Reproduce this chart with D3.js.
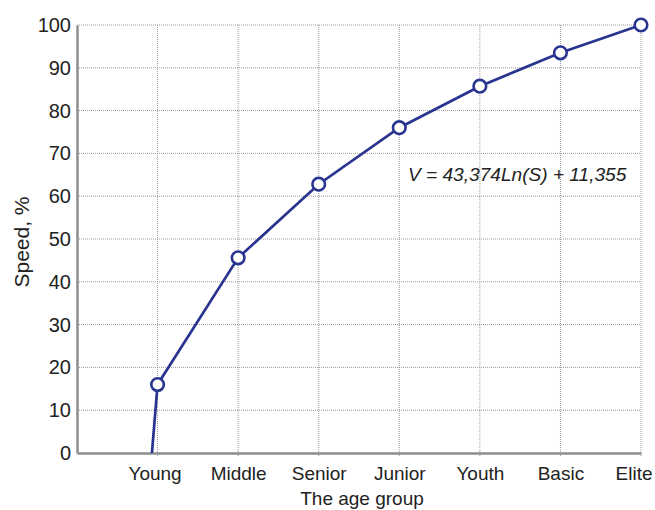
<!DOCTYPE html>
<html><head><meta charset="utf-8">
<script src="https://cdn.jsdelivr.net/npm/d3@7"></script>
<style>body{margin:0;background:#fff}svg{display:block}</style>
</head><body>
<svg id="c" width="655" height="510"></svg>
<script>
const categories = ["Young","Middle","Senior","Junior","Youth","Basic","Elite"];
const speedValues = [16, 45.6, 62.8, 76, 85.7, 93.5, 100];
const yTicks = [0,10,20,30,40,50,60,70,80,90,100];
const trendStart = {pos: 0.93, value: 0};
const equationLabel = "V = 43,374Ln(S) + 11,355";

const svg = d3.select("#c");
const x = d3.scaleLinear().domain([0, categories.length]).range([77, 641]);
const y = d3.scaleLinear().domain([0, 100]).range([453, 25]);
const lineColor = "#28348f";
const font = "'Liberation Sans', Arial, Helvetica, sans-serif";

// horizontal grid
svg.append("g").selectAll("line").data(yTicks.filter(d => d > 0)).join("line")
  .attr("x1", x(0)).attr("x2", x(7)).attr("y1", d => y(d)).attr("y2", d => y(d))
  .attr("stroke", "#9a9a9a").attr("stroke-width", 1).attr("stroke-dasharray", "1,1");
// vertical grid
svg.append("g").selectAll("line").data(categories).join("line")
  .attr("x1", (d,i) => x(i+1)).attr("x2", (d,i) => x(i+1))
  .attr("y1", y(100)).attr("y2", y(0) + 3)
  .attr("stroke", "#9a9a9a").attr("stroke-width", 1).attr("stroke-dasharray", "1,1");

// axes
const yAxis = d3.axisLeft(y).tickValues(yTicks).tickSize(0).tickPadding(6);
const gy = svg.append("g").attr("transform", `translate(${x(0)},0)`).call(yAxis);
gy.select(".domain").attr("stroke", "#8e8e92").attr("stroke-width", 2.5);
gy.selectAll("text").attr("font-family", font).attr("font-size", 20).attr("fill", "#222");

const xAxis = d3.axisBottom(x).tickValues(d3.range(1, 8)).tickSize(0).tickPadding(0)
  .tickFormat(d => categories[d-1]);
const gx = svg.append("g").attr("transform", `translate(0,${y(0)})`).call(xAxis);
gx.select(".domain").attr("stroke", "#8e8e92").attr("stroke-width", 2.5);
gx.selectAll("text").attr("font-family", font).attr("font-size", 19).attr("fill", "#222")
  .attr("dy", null).attr("y", 27)
  .attr("text-anchor", (d,i) => i === categories.length - 1 ? "end" : "middle")
  .attr("x", (d,i) => i === categories.length - 1 ? 652 - x(d) : (i === 0 ? -3 : 0));

// titles
svg.append("text").attr("x", 362).attr("y", 505).attr("text-anchor", "middle")
  .attr("font-family", font).attr("font-size", 19).attr("fill", "#222").text("The age group");
svg.append("text").attr("transform", "translate(29,242) rotate(-90)").attr("text-anchor", "middle")
  .attr("font-family", font).attr("font-size", 21).attr("fill", "#222").text("Speed, %");

// line
const pts = [{pos: trendStart.pos, value: trendStart.value}]
  .concat(speedValues.map((v,i) => ({pos: i+1, value: v})));
const line = d3.line().x(d => x(d.pos)).y(d => y(d.value)).curve(d3.curveLinear);
svg.append("path").datum(pts).attr("d", line).attr("fill", "none")
  .attr("stroke", lineColor).attr("stroke-width", 2.7);

svg.append("g").selectAll("circle").data(speedValues).join("circle")
  .attr("cx", (d,i) => x(i+1)).attr("cy", d => y(d)).attr("r", 6.3)
  .attr("fill", "#fff").attr("stroke", lineColor).attr("stroke-width", 2.6);

// equation
svg.append("text").attr("x", 408).attr("y", 181).attr("font-family", font)
  .attr("font-style", "italic").attr("font-size", 19.1).attr("fill", "#222").text(equationLabel);
</script>
</body></html>
